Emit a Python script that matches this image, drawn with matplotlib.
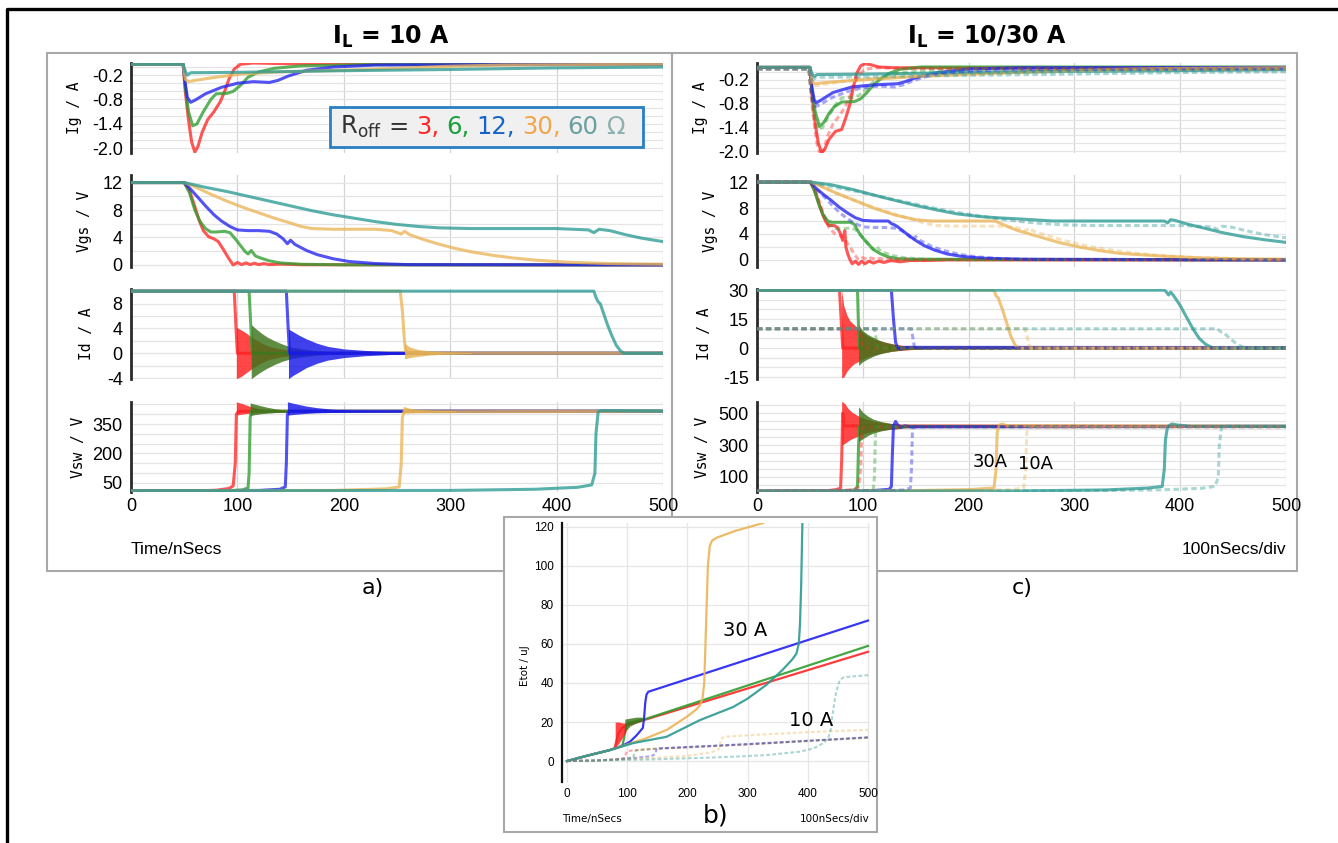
import matplotlib
matplotlib.use("Agg")
import matplotlib.pyplot as plt
from matplotlib import font_manager
from matplotlib.patches import Rectangle
from matplotlib.lines import Line2D

# ---------------- data, time in ns ----------------
# I_L = 10 A  (panel a, and the dashed curves of panels c and b)
ig10_red = [(0, 0.07), (49, 0.07), (51, -0.6), (54, -1.3), (57, -1.85), (60, -2.1), (63, -1.95), (67, -1.6),
            (72, -1.3), (78, -1.1), (84, -0.85), (88, -0.6), (92, -0.3), (97, -0.05), (103, 0.07), (115, 0.1),
            (150, 0.08), (500, 0.07)]
ig10_green = [(0, 0.07), (49, 0.07), (51, -0.5), (54, -1.1), (58, -1.45), (62, -1.4), (68, -1.1), (75, -0.8),
              (80, -0.66), (90, -0.65), (96, -0.6), (103, -0.45), (110, -0.25), (120, -0.12), (135, -0.03),
              (160, 0.03), (220, 0.06), (500, 0.07)]
ig10_blue = [(0, 0.07), (49, 0.07), (51, -0.4), (53, -0.75), (56, -0.87), (60, -0.82), (70, -0.66), (85, -0.5),
             (100, -0.4), (115, -0.36), (130, -0.38), (138, -0.33), (148, -0.22), (165, -0.08), (190, 0.0),
             (230, 0.05), (500, 0.07)]
ig10_orange = [(0, 0.07), (49, 0.07), (51, -0.3), (54, -0.36), (60, -0.33), (80, -0.25), (105, -0.17),
               (140, -0.12), (180, -0.09), (220, -0.06), (260, -0.02), (300, 0.02), (350, 0.05), (500, 0.07)]
ig10_teal = [(0, 0.07), (49, 0.07), (51, -0.1), (53, -0.2), (56, -0.14), (100, -0.13), (150, -0.11),
             (200, -0.09), (300, -0.06), (400, -0.02), (500, 0.0)]

vgs10_red = [(0, 12), (50, 12), (55, 10.8), (60, 8.5), (64, 6.5), (68, 5.0), (73, 4.1), (78, 3.8), (82, 3.4),
             (87, 2.2), (92, 0.9), (96, 0.0), (100, 0.35), (104, 0.05), (108, 0.3), (112, 0.05), (116, 0.25),
             (120, 0.05), (125, 0.2), (130, 0.05), (140, 0.12), (160, 0.03), (500, 0.0)]
vgs10_green = [(0, 12), (50, 12), (55, 10.5), (60, 8.0), (65, 6.3), (70, 5.3), (75, 4.8), (80, 4.8), (88, 4.9),
               (93, 4.7), (98, 3.8), (103, 2.8), (107, 2.0), (110, 1.6), (113, 2.1), (117, 1.3), (122, 1.0),
               (130, 0.6), (140, 0.3), (160, 0.1), (200, 0.02), (500, 0.0)]
vgs10_blue = [(0, 12), (50, 12), (55, 11.2), (62, 10.0), (70, 8.6), (78, 7.3), (85, 6.4), (93, 5.6), (100, 5.1),
              (110, 5.0), (120, 5.0), (130, 4.9), (137, 4.5), (143, 3.8), (147, 3.1), (150, 3.6), (154, 3.0),
              (165, 2.1), (175, 1.5), (190, 0.9), (205, 0.5), (230, 0.2), (260, 0.05), (500, 0.0)]
vgs10_orange = [(0, 12), (50, 12), (60, 11.4), (75, 10.3), (90, 9.3), (105, 8.4), (120, 7.6), (135, 6.8),
                (150, 6.1), (160, 5.6), (170, 5.3), (190, 5.2), (230, 5.2), (245, 5.0), (254, 4.5), (257, 4.9),
                (262, 4.4), (275, 3.7), (290, 3.0), (305, 2.4), (320, 1.9), (340, 1.4), (360, 1.0), (380, 0.7),
                (410, 0.4), (450, 0.2), (500, 0.1)]
vgs10_teal = [(0, 12), (50, 12), (70, 11.3), (90, 10.7), (110, 10.0), (130, 9.3), (150, 8.6), (170, 7.9),
              (190, 7.3), (210, 6.8), (230, 6.3), (250, 5.9), (270, 5.6), (290, 5.4), (320, 5.3), (400, 5.3),
              (430, 5.1), (435, 4.7), (440, 5.2), (450, 5.0), (465, 4.4), (480, 3.9), (500, 3.4)]

id10_red = [(0, 10), (97, 10), (99, 3), (100, 0), (500, 0)]
id10_green = [(0, 10), (111, 10), (113, 3), (114, 0), (500, 0)]
id10_blue = [(0, 10), (146, 10), (148, 3), (149, 0), (500, 0)]
id10_orange = [(0, 10), (253, 10), (255, 7), (257, 2), (258, 0.5), (260, 0), (500, 0)]
id10_teal = [(0, 10), (435, 10), (437, 9.0), (439, 8.3), (441, 8.0), (444, 6.5), (448, 4.5), (452, 2.8),
             (456, 1.3), (460, 0.4), (463, 0.0), (500, 0.0)]
# ringing envelopes: (t, low, high)
id10_red_ring = [(99, -4.1, 4.2), (103, -3.8, 3.8), (107, -3.3, 3.4), (111, -2.8, 2.9), (116, -2.2, 2.3),
                 (122, -1.6, 1.7), (130, -1.0, 1.1), (140, -0.6, 0.7), (155, -0.3, 0.4), (175, -0.1, 0.2)]
id10_green_ring = [(113, -4.1, 4.6), (117, -3.6, 4.0), (122, -3.0, 3.3), (128, -2.4, 2.6), (135, -1.8, 2.0),
                   (142, -1.3, 1.5), (150, -0.9, 1.0), (160, -0.6, 0.7), (175, -0.3, 0.4), (195, -0.1, 0.2)]
id10_blue_ring = [(148, -4.1, 3.9), (152, -3.6, 3.5), (158, -3.0, 2.9), (165, -2.3, 2.3), (175, -1.6, 1.6),
                  (185, -1.1, 1.1), (200, -0.7, 0.7), (220, -0.4, 0.45), (245, -0.2, 0.25), (280, -0.1, 0.12)]
id10_orange_ring = [(257, -0.9, 1.6), (262, -0.7, 1.0), (270, -0.5, 0.6), (280, -0.3, 0.4), (295, -0.15, 0.2),
                    (320, -0.05, 0.1)]

vsw10_red = [(0, 10), (60, 10), (80, 13), (92, 22), (96, 35), (98, 150), (99, 400), (101, 415), (500, 415)]
vsw10_green = [(0, 10), (90, 10), (105, 15), (110, 25), (111, 100), (112, 380), (113, 415), (500, 415)]
vsw10_blue = [(0, 10), (120, 12), (140, 18), (145, 30), (146, 150), (147, 400), (149, 415), (500, 415)]
vsw10_orange = [(0, 10), (190, 12), (240, 20), (252, 30), (254, 150), (255, 380), (257, 420), (260, 412),
                (500, 415)]
vsw10_teal = [(0, 10), (300, 12), (380, 18), (420, 28), (433, 40), (436, 100), (437, 300), (439, 410),
              (441, 418), (500, 416)]
vsw10_red_ring = [(99, 396, 462), (104, 400, 455), (108, 403, 447), (113, 406, 438), (120, 408, 428),
                  (130, 410, 422), (145, 412, 418)]
vsw10_green_ring = [(112, 393, 457), (117, 398, 450), (122, 402, 443), (128, 405, 435), (135, 408, 428),
                    (143, 410, 422), (155, 412, 418), (170, 413, 417)]
vsw10_blue_ring = [(147, 395, 463), (152, 398, 456), (158, 401, 449), (165, 404, 441), (175, 407, 433),
                   (190, 409, 425), (210, 411, 420), (240, 412, 418), (280, 413, 417)]
vsw10_orange_ring = [(256, 405, 440), (262, 407, 430), (270, 409, 424), (285, 411, 420), (305, 412, 418)]

# I_L = 30 A  (solid curves of panel c and b)
ig30_red = [(0, 0.11), (50, 0.11), (52, -0.6), (55, -1.3), (58, -1.8), (61, -2.03), (64, -1.95), (68, -1.7),
            (74, -1.5), (80, -1.45), (84, -1.15), (88, -0.8), (91, -0.4), (94, -0.05), (98, 0.15), (102, 0.2),
            (107, 0.18), (115, 0.12), (130, 0.1), (500, 0.1)]
ig30_green = [(0, 0.11), (50, 0.11), (52, -0.5), (55, -1.0), (59, -1.37), (63, -1.28), (68, -1.05), (73, -0.88),
              (80, -0.76), (92, -0.75), (98, -0.68), (104, -0.52), (110, -0.33), (116, -0.2), (124, -0.05),
              (135, 0.06), (155, 0.12), (500, 0.12)]
ig30_blue = [(0, 0.11), (50, 0.11), (52, -0.4), (54, -0.7), (56, -0.78), (60, -0.72), (72, -0.52), (90, -0.38),
             (110, -0.33), (133, -0.3), (140, -0.25), (150, -0.15), (168, -0.03), (200, 0.07), (250, 0.1),
             (500, 0.11)]
ig30_orange = [(0, 0.11), (50, 0.11), (52, -0.25), (55, -0.3), (65, -0.27), (90, -0.22), (120, -0.17),
               (150, -0.12), (190, -0.07), (230, -0.03), (300, 0.04), (380, 0.08), (500, 0.1)]
ig30_teal = [(0, 0.11), (50, 0.11), (52, -0.05), (54, -0.12), (57, -0.07), (100, -0.06), (150, -0.04),
             (200, -0.02), (300, 0.01), (400, 0.03), (500, 0.05)]

vgs30_red = [(0, 12), (51, 12), (55, 10.5), (59, 8.5), (62, 7.0), (65, 5.9), (68, 5.3), (73, 5.3), (76, 5.0),
             (79, 4.0), (81, 3.0), (83, 4.5), (84, 2.0), (86, 0.8), (88, 0.0), (90, -0.6), (93, -0.2), (96, -0.7),
             (99, -0.2), (102, -0.6), (106, -0.2), (110, -0.5), (115, -0.2), (120, -0.4), (127, -0.1),
             (135, -0.3), (145, -0.1), (160, -0.1), (180, 0.0), (500, 0.0)]
vgs30_green = [(0, 12), (51, 12), (55, 10.3), (59, 8.3), (63, 6.8), (67, 6.0), (71, 5.8), (80, 5.8), (88, 5.8),
               (92, 5.5), (96, 4.3), (100, 3.4), (105, 2.5), (110, 1.6), (116, 1.0), (123, 0.5), (132, 0.2),
               (145, 0.1), (500, 0.0)]
vgs30_blue = [(0, 12), (51, 12), (56, 11.0), (62, 10.2), (70, 9.2), (78, 8.1), (86, 7.2), (93, 6.5), (100, 6.1),
              (110, 6.0), (124, 6.0), (127, 5.6), (130, 5.4), (133, 5.1), (140, 4.2), (149, 3.1), (158, 2.2),
              (168, 1.5), (180, 0.9), (195, 0.5), (215, 0.25), (250, 0.1), (500, 0.0)]
vgs30_orange = [(0, 12), (51, 12), (60, 11.4), (75, 10.3), (92, 9.2), (110, 8.0), (131, 6.9), (150, 6.2),
                (165, 6.0), (225, 6.0), (232, 5.5), (245, 4.6), (266, 3.6), (285, 2.7), (304, 2.0), (325, 1.4),
                (343, 1.0), (381, 0.6), (420, 0.3), (460, 0.15), (500, 0.1)]
vgs30_teal = [(0, 12), (51, 12), (70, 11.6), (92, 10.8), (120, 9.6), (150, 8.4), (170, 7.7), (189, 7.1),
              (210, 6.7), (227, 6.5), (250, 6.3), (280, 6.0), (385, 6.0), (388, 5.7), (391, 6.2), (395, 6.1),
              (405, 5.6), (420, 5.0), (440, 4.2), (459, 3.6), (480, 3.1), (500, 2.7)]

id30_red = [(0, 30), (78, 30), (80, 10), (81, 0), (500, 0)]
id30_green = [(0, 30), (95, 30), (96, 10), (97, 0), (500, 0)]
id30_blue = [(0, 30), (127, 30), (129, 15), (131, 3), (133, 0), (136, -0.4), (140, 0.4), (500, 0.3)]
id30_orange = [(0, 30), (224, 30), (226, 27), (228, 26), (232, 20), (236, 13), (240, 6), (244, 1.5), (247, 0),
               (500, 0)]
id30_teal = [(0, 30), (385, 30), (387, 29), (389, 27.5), (391, 29), (394, 27), (400, 22), (406, 16), (412, 10),
             (418, 5), (424, 2), (430, 0.3), (434, 0), (500, 0)]
id30_red_ring = [(80, -15.5, 30), (82, -15, 22), (85, -12, 17), (88, -10, 14), (92, -8, 12), (96, -7, 10),
                 (100, -5.5, 8), (105, -4.5, 6), (112, -3.3, 4.5), (120, -2.3, 3.2), (130, -1.5, 2),
                 (140, -1, 1.3), (155, -0.5, 0.6)]
id30_green_ring = [(96, -9, 12), (100, -7, 9), (105, -5.5, 7), (110, -4.2, 5.5), (115, -3.2, 4.2),
                   (120, -2.5, 3.2), (127, -1.7, 2.2), (135, -1.1, 1.4), (145, -0.6, 0.8), (160, -0.3, 0.4)]

vsw30_red = [(0, 10), (65, 12), (75, 20), (79, 30), (80, 200), (81, 500), (82, 420), (500, 417)]
vsw30_green = [(0, 10), (85, 12), (93, 20), (95, 40), (96, 300), (97, 417), (500, 417)]
vsw30_blue = [(0, 10), (110, 14), (125, 22), (127, 40), (128, 250), (129, 420), (131, 448), (133, 425),
              (136, 410), (140, 420), (145, 414), (500, 417)]
vsw30_orange = [(0, 10), (150, 14), (200, 20), (224, 30), (226, 150), (227, 380), (229, 425), (232, 432),
                (236, 420), (500, 417)]
vsw30_teal = [(0, 10), (250, 12), (330, 18), (370, 30), (383, 40), (385, 150), (386, 330), (388, 415),
              (392, 432), (398, 425), (410, 417), (500, 417)]
vsw30_red_ring = [(80, 300, 575), (83, 310, 560), (86, 325, 530), (90, 340, 505), (95, 355, 485),
                  (100, 370, 470), (110, 385, 450), (120, 395, 440), (135, 403, 430)]
vsw30_green_ring = [(96, 320, 540), (100, 340, 505), (105, 360, 480), (110, 375, 462), (117, 388, 448),
                    (125, 398, 437), (135, 405, 428), (150, 410, 423), (170, 413, 420)]

# switching energy Etot / uJ
et30_red = [(0, 0), (33, 2.7), (71, 5.6), (79, 6.6), (81, 9), (85, 14), (92, 17), (100, 18.5), (112, 19.5),
            (500, 56)]
et30_green = [(0, 0), (33, 2.7), (71, 5.6), (85, 7), (92, 8), (95, 12), (98, 18), (101, 19.5), (130, 21.5),
              (500, 59)]
et30_blue = [(0, 0), (33, 2.7), (71, 5.6), (90, 7.5), (105, 10), (115, 13), (122, 15.5), (126, 17), (128, 22),
             (130, 30), (132, 34), (135, 35.5), (500, 72)]
et30_orange = [(0, 0), (33, 2.7), (71, 5.6), (100, 8.5), (130, 11.5), (166, 16), (199, 22.7), (215, 26.5),
               (221, 28.7), (225, 32), (228, 40), (231, 70), (234, 100), (237, 110), (241, 113), (249, 114.5),
               (280, 118), (326, 122)]
et30_teal = [(0, 0), (33, 2.7), (71, 5.6), (110, 9.2), (165, 12.4), (221, 21), (276, 27.7), (300, 32),
             (331, 39), (358, 46.7), (374, 52), (381, 55), (385, 60), (387, 70), (389, 90), (391, 122)]
et30_red_ring = [(80, 7, 20), (86, 9, 20), (92, 12, 19.5), (98, 15, 19.5)]
et30_green_ring = [(96, 15, 21.5), (105, 18, 22), (115, 19.5, 22.5), (125, 20.5, 22.5)]

et10_red = [(0, 0), (50, 0.3), (80, 0.8), (95, 1.5), (98, 4), (100, 5), (110, 5.5), (150, 6.3), (200, 7.0),
            (300, 8.5), (400, 10.3), (500, 12)]
et10_green = [(0, 0), (50, 0.3), (90, 1.0), (110, 1.8), (112, 4), (115, 5.5), (130, 6), (150, 6.4), (200, 7.1),
              (300, 8.6), (400, 10.3), (500, 12)]
et10_blue = [(0, 0), (50, 0.3), (100, 1.2), (140, 2.5), (146, 3.5), (149, 6), (153, 6.5), (200, 7.2),
             (300, 8.7), (400, 10.4), (500, 12.2)]
et10_orange = [(0, 0), (50, 0.3), (100, 1.0), (150, 1.7), (200, 2.6), (240, 4.5), (252, 6), (255, 10),
               (258, 12), (265, 12.5), (300, 13.2), (400, 14.8), (500, 16)]
et10_teal = [(0, 0), (50, 0.3), (100, 0.6), (150, 0.9), (220, 1.6), (276, 2.2), (330, 3), (387, 4.8),
             (410, 6.5), (426, 9.2), (434, 11.8), (438, 16), (442, 26), (447, 35), (453, 41.5), (460, 43),
             (500, 44)]

time_ticks = [0, 100, 200, 300, 400, 500]
legend_parts = ['R$_{\\rm off}$', '=', '3,', '6,', '12,', '30,', '60', '\u03a9']

# ---------------- styling ----------------
W, H = 1338, 843
names = {f.name for f in font_manager.fontManager.ttflist}
NARROW = 'Liberation Sans Narrow' if 'Liberation Sans Narrow' in names else 'Liberation Sans'
plt.rcParams['font.family'] = [NARROW, 'DejaVu Sans']

RED, GREEN, BLUE, ORANGE, TEAL = '#ff2626', '#2f9d2f', '#2222f2', '#ebb457', '#2b9a92'
RING = {RED: '#ff1f1f', GREEN: '#3b7419', BLUE: '#1616e8', ORANGE: '#e6b24e'}
COLS = [RED, GREEN, BLUE, ORANGE, TEAL]

fig = plt.figure(figsize=(W / 100, H / 100), dpi=100)


def rect(x0, y0, x1, y1):
    return [x0 / W, 1 - y1 / H, (x1 - x0) / W, (y1 - y0) / H]


def trace(ax, pts, color, lw=2.2, alpha=0.78, dashed=False):
    t = [p[0] for p in pts]
    v = [p[1] for p in pts]
    if dashed:
        ax.plot(t, v, color=color, lw=lw, alpha=0.4, ls=(0, (1.8, 1.1)), zorder=4)
    else:
        ax.plot(t, v, color=color, lw=lw, alpha=alpha, zorder=3)


def ring(ax, pts, color, alpha=0.82):
    t = [p[0] for p in pts]
    ax.fill_between(t, [p[1] for p in pts], [p[2] for p in pts], color=RING[color], alpha=alpha, lw=0, zorder=3)


def panel(ax, ylim, major, labels, minor, ylabel, lab_px, left_px, width_px, show_x):
    ax.set_xlim(0, 500)
    ax.set_ylim(*ylim)
    ax.set_yticks(major)
    ax.set_yticklabels(labels)
    ax.set_yticks(minor, minor=True)
    ax.set_xticks(time_ticks)
    ax.grid(True, which='both', axis='y', color='#e4e4e4', lw=0.9)
    ax.grid(True, which='major', axis='x', color='#d4d4d4', lw=0.9)
    ax.set_axisbelow(True)
    ax.tick_params(which='both', length=0, labelsize=13, pad=6)
    ax.tick_params(axis='x', pad=4)
    for s in ['top', 'right', 'bottom']:
        ax.spines[s].set_visible(False)
    ax.spines['left'].set_color('#2a2a2a')
    ax.spines['left'].set_linewidth(2)
    ax.tick_params(labelbottom=show_x)
    ax.set_ylabel(ylabel, family='DejaVu Sans Mono', fontsize=10.5, va='center')
    ax.yaxis.set_label_coords((lab_px - left_px) / width_px, 0.5)


rows = [(63, 153), (175, 267), (289, 379), (402, 492)]
ylab = ['Ig / A', 'Vgs / V', 'Id / A', 'Vsw / V']
ig_ticks = [-0.2, -0.8, -1.4, -2.0]
ig_grid = [-2.0 + 0.2 * i for i in range(11)]


def column(left_px, right_px, lab_px, ig, vgs, idd, vsw, id_rings, vsw_rings, right_side):
    axes = [fig.add_axes(rect(left_px, r[0], right_px, r[1])) for r in rows]
    wpx = right_px - left_px
    if right_side:
        panel(axes[0], (-2.04, 0.22), ig_ticks, ['-0.2', '-0.8', '-1.4', '-2.0'], ig_grid, ylab[0], lab_px[0], left_px, wpx, False)
        panel(axes[1], (-1.1, 13.1), [0, 4, 8, 12], ['0', '4', '8', '12'], list(range(0, 14, 2)), ylab[1], lab_px[1], left_px, wpx, False)
        panel(axes[2], (-16, 30.6), [-15, 0, 15, 30], ['-15', '0', '15', '30'], list(range(-15, 31, 5)), ylab[2], lab_px[2], left_px, wpx, False)
        panel(axes[3], (5, 570), [100, 300, 500], ['100', '300', '500'], list(range(50, 570, 50)), ylab[3], lab_px[3], left_px, wpx, True)
    else:
        panel(axes[0], (-2.12, 0.1), ig_ticks, ['-0.2', '-0.8', '-1.4', '-2.0'], ig_grid, ylab[0], lab_px[0], left_px, wpx, False)
        panel(axes[1], (-0.3, 13.1), [0, 4, 8, 12], ['0', '4', '8', '12'], list(range(0, 14, 2)), ylab[1], lab_px[1], left_px, wpx, False)
        panel(axes[2], (-4.15, 10.35), [-4, 0, 4, 8], ['-4', '0', '4', '8'], list(range(-4, 11, 2)), ylab[2], lab_px[2], left_px, wpx, False)
        panel(axes[3], (4, 462), [50, 200, 350], ['50', '200', '350'], list(range(50, 460, 50)), ylab[3], lab_px[3], left_px, wpx, True)
    for ax, series, rings in zip(axes, [ig, vgs, idd, vsw], [None, None, id_rings, vsw_rings]):
        for i, c in enumerate(COLS):
            trace(ax, series[i], c)
            if rings and rings[i]:
                ring(ax, rings[i], c)
    return axes


# panel a) I_L = 10 A
column(131, 663, [75, 85, 87, 78],
       [ig10_red, ig10_green, ig10_blue, ig10_orange, ig10_teal],
       [vgs10_red, vgs10_green, vgs10_blue, vgs10_orange, vgs10_teal],
       [id10_red, id10_green, id10_blue, id10_orange, id10_teal],
       [vsw10_red, vsw10_green, vsw10_blue, vsw10_orange, vsw10_teal],
       [id10_red_ring, id10_green_ring, id10_blue_ring, id10_orange_ring, None],
       [vsw10_red_ring, vsw10_green_ring, vsw10_blue_ring, vsw10_orange_ring, None], False)

# panel c) I_L = 30 A solid, 10 A dashed
axc = column(757, 1286, [701, 711, 705, 703],
             [ig30_red, ig30_green, ig30_blue, ig30_orange, ig30_teal],
             [vgs30_red, vgs30_green, vgs30_blue, vgs30_orange, vgs30_teal],
             [id30_red, id30_green, id30_blue, id30_orange, id30_teal],
             [vsw30_red, vsw30_green, vsw30_blue, vsw30_orange, vsw30_teal],
             [id30_red_ring, id30_green_ring, None, None, None],
             [vsw30_red_ring, vsw30_green_ring, None, None, None], True)
for ax, series in zip(axc, [[ig10_red, ig10_green, ig10_blue, ig10_orange, ig10_teal],
                            [vgs10_red, vgs10_green, vgs10_blue, vgs10_orange, vgs10_teal],
                            [id10_red, id10_green, id10_blue, id10_orange, id10_teal],
                            [vsw10_red, vsw10_green, vsw10_blue, vsw10_orange, vsw10_teal]]):
    for s, c in zip(series, COLS):
        trace(ax, s, c, dashed=True)

# panel b) Etot
axb = fig.add_axes(rect(562.2, 523, 869.8, 782.5), zorder=6)
axb.set_xlim(-8, 503)
axb.set_ylim(-11, 122)
axb.set_xticks(time_ticks)
axb.set_yticks(list(range(0, 121, 20)))
axb.grid(True, color='#e6e6e6', lw=0.9)
axb.set_axisbelow(True)
axb.tick_params(length=0, labelsize=8.5, pad=6)
axb.tick_params(axis='x', pad=4)
for s in ['top', 'right', 'bottom']:
    axb.spines[s].set_visible(False)
axb.spines['left'].set_color('#111111')
axb.spines['left'].set_linewidth(1.6)
axb.set_ylabel('Etot / uJ', family='DejaVu Sans', fontsize=7.5, va='center')
axb.yaxis.set_label_coords((525 - 562.2) / 307.6, 0.45)
for s, c in zip([et10_red, et10_green, et10_blue, et10_orange, et10_teal], COLS):
    trace(axb, s, c, lw=1.5, dashed=True)
for s, c in zip([et30_red, et30_green, et30_blue, et30_orange, et30_teal], COLS):
    trace(axb, s, c, lw=1.6, alpha=0.9)
ring(axb, et30_red_ring, RED)
ring(axb, et30_green_ring, GREEN)

# ---------------- frames and texts ----------------
fig.patches.append(Rectangle((47 / W, 1 - 571 / H), 625 / W, 518 / H, transform=fig.transFigure,
                             fill=False, edgecolor='#a8a8a8', lw=1.5, zorder=-1))
fig.patches.append(Rectangle((672 / W, 1 - 571 / H), 625 / W, 518 / H, transform=fig.transFigure,
                             fill=False, edgecolor='#a8a8a8', lw=1.5, zorder=-1))
fig.patches.append(Rectangle((504 / W, 1 - 832 / H), 373 / W, 315 / H, transform=fig.transFigure,
                             facecolor='white', edgecolor='#a8a8a8', lw=1.5, zorder=5))
fig.add_artist(Line2D([7 / W, 7 / W, 1.0], [0.0, 1 - 9 / H, 1 - 9 / H], color='black', lw=2.4, zorder=8))

fig.text(391 / W, 1 - 37 / H, r'$\mathbf{I}_\mathbf{L}$ = 10 A', ha='center', va='center', fontsize=17,
         fontweight='bold', family='DejaVu Sans')
fig.text(987 / W, 1 - 37 / H, r'$\mathbf{I}_\mathbf{L}$ = 10/30 A', ha='center', va='center', fontsize=17,
         fontweight='bold', family='DejaVu Sans')
fig.text(131 / W, 1 - 550 / H, 'Time/nSecs', ha='left', va='center', fontsize=12.5)
fig.text(1286 / W, 1 - 550 / H, '100nSecs/div', ha='right', va='center', fontsize=12.5)
fig.text(373 / W, 1 - 588 / H, 'a)', ha='center', va='center', fontsize=16, family='DejaVu Sans')
fig.text(1022 / W, 1 - 588 / H, 'c)', ha='center', va='center', fontsize=16, family='DejaVu Sans')
fig.text(716 / W, 1 - 815 / H, 'b)', ha='center', va='center', fontsize=18, family='DejaVu Sans', zorder=7)
fig.text(562 / W, 1 - 819 / H, 'Time/nSecs', ha='left', va='center', fontsize=7.5, family='DejaVu Sans', zorder=7)
fig.text(870 / W, 1 - 819 / H, '100nSecs/div', ha='right', va='center', fontsize=7.5, family='DejaVu Sans', zorder=7)
fig.text(745 / W, 1 - 630 / H, '30 A', ha='center', va='center', fontsize=14, family='DejaVu Sans', zorder=7)
fig.text(811 / W, 1 - 721 / H, '10 A', ha='center', va='center', fontsize=14, family='DejaVu Sans', zorder=7)
fig.text(990 / W, 1 - 462 / H, '30A', ha='center', va='center', fontsize=13, family='DejaVu Sans')
fig.text(1035 / W, 1 - 464 / H, '10A', ha='center', va='center', fontsize=13, family='DejaVu Sans')

# legend box with coloured resistor values
fig.patches.append(Rectangle((330 / W, 1 - 147 / H), 313 / W, 40 / H, transform=fig.transFigure,
                             facecolor='#f0f0f0', edgecolor='#2a7fc4', lw=2, zorder=2.5))
legend_cols = ['#333333', '#333333', RED, '#17a03a', '#1565c8', '#f4a449', '#6a9f9f', '#8fb0b0']
renderer = fig.canvas.get_renderer()
x = 340
for part, col in zip(legend_parts, legend_cols):
    t = fig.text(x / W, 1 - 134 / H, part, ha='left', va='baseline', fontsize=17.5, color=col,
                 family='DejaVu Sans', zorder=3)
    x += t.get_window_extent(renderer).width + 7

fig.savefig('out.png', dpi=100)
